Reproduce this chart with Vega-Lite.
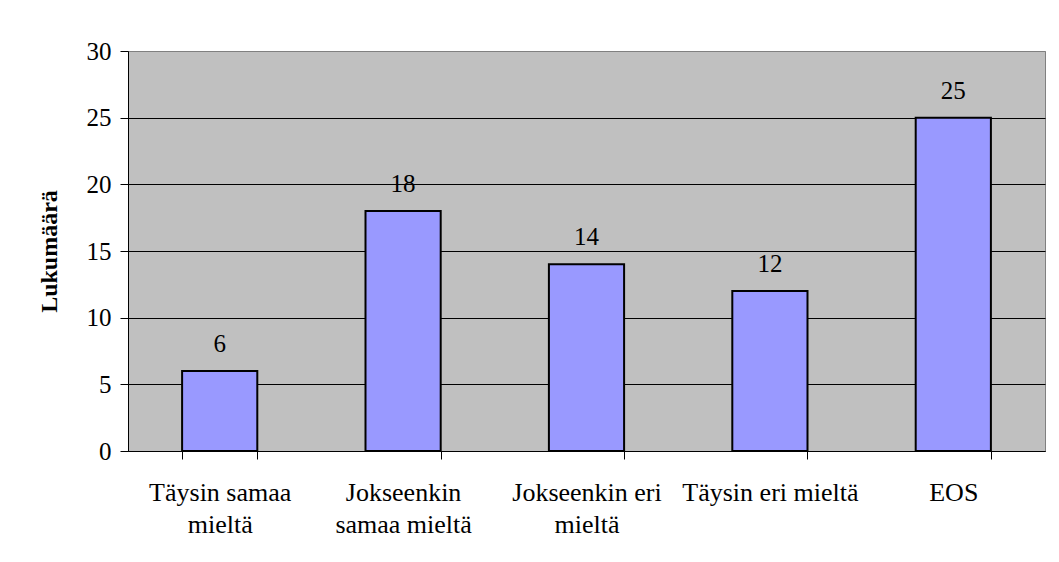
{
  "$schema": "https://vega.github.io/schema/vega-lite/v6.json",
  "width": 917,
  "height": 400,
  "autosize": "none",
  "padding": {"left": 128, "top": 51, "right": 14, "bottom": 111},
  "background": "white",
  "config": {
    "view": {"fill": "#C0C0C0", "stroke": "#808080", "strokeWidth": 1},
    "font": "Liberation Serif, Times New Roman, serif"
  },
  "data": {
    "values": [
      {"kategoria": "Täysin samaa mieltä", "lukumaara": 6},
      {"kategoria": "Jokseenkin samaa mieltä", "lukumaara": 18},
      {"kategoria": "Jokseenkin eri mieltä", "lukumaara": 14},
      {"kategoria": "Täysin eri mieltä", "lukumaara": 12},
      {"kategoria": "EOS", "lukumaara": 25}
    ]
  },
  "encoding": {
    "x": {
      "field": "kategoria",
      "type": "nominal",
      "sort": null,
      "scale": {"paddingInner": 0.59, "paddingOuter": 0.295},
      "axis": {
        "title": null,
        "labelAngle": 0,
        "tickBand": "extent",
        "tickSize": 8,
        "tickColor": "black",
        "domainColor": "black",
        "labelFont": "Liberation Serif, Times New Roman, serif",
        "labelFontSize": 26,
        "labelColor": "black",
        "labelPadding": 20,
        "labelLineHeight": 32,
        "labelLimit": 0,
        "labelOverlap": false,
        "labelBaseline": "top",
        "grid": false,
        "labelExpr": "datum.value == 'Täysin samaa mieltä' ? ['Täysin samaa', 'mieltä'] : datum.value == 'Jokseenkin samaa mieltä' ? ['Jokseenkin', 'samaa mieltä'] : datum.value == 'Jokseenkin eri mieltä' ? ['Jokseenkin eri', 'mieltä'] : datum.value"
      }
    },
    "y": {
      "field": "lukumaara",
      "type": "quantitative",
      "scale": {"domain": [0, 30], "nice": false},
      "axis": {
        "title": "Lukumäärä",
        "values": [0, 5, 10, 15, 20, 25, 30],
        "grid": true,
        "gridColor": {"condition": {"test": "datum.value == 30", "value": "#808080"}, "value": "black"},
        "gridWidth": 1,
        "domainColor": "black",
        "tickColor": "black",
        "tickSize": 8,
        "labelFont": "Liberation Serif, Times New Roman, serif",
        "labelFontSize": 25,
        "labelColor": "black",
        "labelPadding": 9,
        "titleFont": "Liberation Serif, Times New Roman, serif",
        "titleFontSize": 24,
        "titleFontWeight": "bold",
        "titleColor": "black",
        "titleAngle": -90,
        "titleX": -72,
        "titleY": 200,
        "titleAlign": "center",
        "titleBaseline": "alphabetic"
      }
    }
  },
  "layer": [
    {
      "mark": {"type": "bar", "fill": "#9999FF", "stroke": "black", "strokeWidth": 2}
    },
    {
      "mark": {"type": "text", "baseline": "alphabetic", "dy": -19, "fontSize": 25, "font": "Liberation Serif, Times New Roman, serif", "color": "black"},
      "encoding": {"text": {"field": "lukumaara", "type": "quantitative"}}
    }
  ]
}
